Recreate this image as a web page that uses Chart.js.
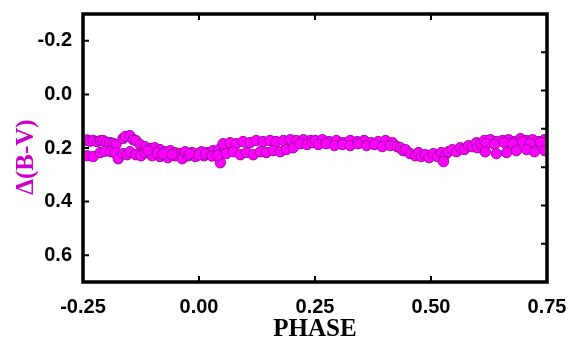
<!DOCTYPE html>
<html>
<head>
<meta charset="utf-8">
<script src="https://cdn.jsdelivr.net/npm/chart.js@4.4.1/dist/chart.umd.min.js"></script>
<style>
  html, body { margin: 0; padding: 0; background: #ffffff; }
  #wrap { width: 569px; height: 341px; }
</style>
</head>
<body>
<div id="wrap"><canvas id="lc"></canvas></div>
<script>
// Phase values, grouped by stretch of the curve
const phase = [
  // upper band, left
  -0.248, -0.241, -0.235, -0.228, -0.220, -0.213, -0.207, -0.200, -0.192, -0.185, -0.179,
  -0.164, -0.159, -0.149, -0.142, -0.136, -0.127,
  // lower band, left
  -0.241, -0.228, -0.213, -0.203, -0.190, -0.181, -0.174, -0.164, -0.155, -0.149, -0.136, -0.125,
  // descending branch
  -0.116, -0.105, -0.095, -0.084, -0.073, -0.062, -0.052, -0.041,
  -0.116, -0.101, -0.084, -0.067, -0.052, -0.036,
  -0.110, -0.090, -0.078, -0.058,
  // minimum near phase 0
  -0.030, -0.023, -0.015, -0.008, -0.002, 0.005, 0.011, 0.018, 0.024, 0.030, 0.037, 0.043, 0.050, 0.056,
  0.046, -0.020, 0.000, 0.014, 0.028, 0.040,
  // rising branch, upper and lower rows
  0.052, 0.067, 0.080, 0.095, 0.110, 0.123, 0.138, 0.153, 0.166, 0.182, 0.197, 0.210, 0.225, 0.240,
  0.059, 0.074, 0.089, 0.102, 0.117, 0.132, 0.145, 0.160, 0.175, 0.188, 0.203,
  // maximum plateau
  0.218, 0.233, 0.244,
  0.251, 0.266, 0.281, 0.296, 0.311, 0.326, 0.341, 0.356, 0.371, 0.386, 0.402, 0.417,
  0.257, 0.274, 0.292, 0.309, 0.326, 0.343, 0.361, 0.378, 0.395, 0.412, 0.427,
  // descending to secondary minimum
  0.434, 0.440, 0.445, 0.455, 0.466,
  0.473, 0.479, 0.488, 0.496, 0.505, 0.514, 0.522, 0.531, 0.537, 0.527,
  // rising again
  0.546, 0.555, 0.563, 0.572, 0.581, 0.589, 0.598, 0.600, 0.607,
  // upper band, right
  0.615, 0.628, 0.641, 0.654, 0.667, 0.680, 0.693, 0.706, 0.719, 0.732, 0.745, 0.751,
  0.619, 0.637, 0.658, 0.676, 0.697, 0.714, 0.736,
  // sparse lower row, right
  0.617, 0.641, 0.663, 0.684, 0.706, 0.723, 0.745
];

const deltaBV = [
  0.172, 0.170, 0.175, 0.172, 0.176, 0.173, 0.172, 0.178, 0.180, 0.183, 0.187,
  0.165, 0.157, 0.154, 0.169, 0.172, 0.187,
  0.229, 0.232, 0.217, 0.212, 0.214, 0.218, 0.240, 0.221, 0.225, 0.214, 0.225, 0.229,
  0.195, 0.202, 0.199, 0.206, 0.214, 0.210, 0.217, 0.221,
  0.217, 0.229, 0.232, 0.236, 0.229, 0.240,
  0.210, 0.218, 0.222, 0.225,
  0.214, 0.229, 0.217, 0.232, 0.221, 0.214, 0.229, 0.217, 0.225, 0.210, 0.221, 0.206, 0.217, 0.202,
  0.255, 0.222, 0.226, 0.222, 0.230, 0.228,
  0.184, 0.180, 0.184, 0.176, 0.180, 0.172, 0.176, 0.172, 0.176, 0.172, 0.169, 0.172, 0.169, 0.172,
  0.221, 0.214, 0.225, 0.217, 0.225, 0.214, 0.217, 0.210, 0.214, 0.206, 0.199,
  0.184, 0.187, 0.180,
  0.172, 0.169, 0.176, 0.172, 0.180, 0.172, 0.176, 0.172, 0.180, 0.176, 0.172, 0.180,
  0.187, 0.184, 0.191, 0.187, 0.191, 0.184, 0.191, 0.187, 0.195, 0.191, 0.195,
  0.199, 0.210, 0.206, 0.221, 0.229,
  0.217, 0.232, 0.225, 0.236, 0.221, 0.232, 0.217, 0.225, 0.214, 0.251,
  0.206, 0.214, 0.199, 0.206, 0.191, 0.195, 0.180, 0.199, 0.184,
  0.172, 0.169, 0.176, 0.172, 0.169, 0.176, 0.165, 0.172, 0.169, 0.176, 0.169, 0.172,
  0.184, 0.187, 0.180, 0.184, 0.176, 0.184, 0.180,
  0.214, 0.221, 0.217, 0.210, 0.206, 0.214, 0.210
];

// Tick labels
const xTicks = [-0.25, 0.00, 0.25, 0.50, 0.75];
const yTicks = [-0.2, 0.0, 0.2, 0.4, 0.6];
const rightTicks = [1, 2, 3, 4, 5, 6];

const points = phase.map((p, i) => ({ x: p, y: deltaBV[i] }));

// Frame plugin: thick box, inward ticks on all sides, rotated y title
const framePlugin = {
  id: 'frame',
  afterDatasetsDraw(chart) {
    const ctx = chart.ctx;
    const a = chart.chartArea;
    const xs = chart.scales.x, ys = chart.scales.y, rs = chart.scales.y2;
    ctx.save();
    ctx.strokeStyle = '#000';
    ctx.lineWidth = 2;
    const len = 6;
    ctx.beginPath();
    xTicks.forEach(v => {
      const px = xs.getPixelForValue(v);
      ctx.moveTo(px, a.bottom); ctx.lineTo(px, a.bottom - len);
      ctx.moveTo(px, a.top); ctx.lineTo(px, a.top + len);
    });
    yTicks.forEach(v => {
      const py = ys.getPixelForValue(v);
      ctx.moveTo(a.left, py); ctx.lineTo(a.left + len, py);
    });
    rightTicks.forEach(v => {
      const py = rs.getPixelForValue(v);
      ctx.moveTo(a.right, py); ctx.lineTo(a.right - len, py);
    });
    ctx.stroke();
    ctx.lineWidth = 3.5;
    ctx.strokeRect(a.left, a.top, a.right - a.left, a.bottom - a.top);

    // y axis title
    ctx.translate(27, 157);
    ctx.rotate(-Math.PI / 2);
    ctx.fillStyle = '#cc00cc';
    ctx.font = 'bold 25px "Liberation Serif"';
    ctx.textAlign = 'center';
    ctx.textBaseline = 'middle';
    ctx.fillText('\u0394(B-V)', 0, 0);
    ctx.restore();
  }
};

new Chart(document.getElementById('lc'), {
  type: 'scatter',
  data: {
    datasets: [{
      label: 'dBV',
      data: points,
      backgroundColor: '#ff00ff',
      borderColor: '#9a0aa0',
      borderWidth: 1,
      pointRadius: 5.2,
      pointHoverRadius: 5.2
    }]
  },
  options: {
    responsive: true,
    maintainAspectRatio: false,
    animation: false,
    layout: { padding: { top: 14, right: 22, left: 0, bottom: 0 } },
    plugins: {
      legend: { display: false },
      tooltip: { enabled: false }
    },
    scales: {
      x: {
        type: 'linear',
        min: -0.25,
        max: 0.75,
        afterBuildTicks: s => { s.ticks = xTicks.map(v => ({ value: v })); },
        afterFit: s => { s.height = 59; s.paddingLeft = 0; s.paddingRight = 0; },
        grid: { display: false, drawTicks: false },
        border: { display: false },
        ticks: {
          padding: 13,
          color: '#000',
          font: { family: '"Liberation Sans", Arial', weight: 'bold', size: 20 },
          callback: v => v.toFixed(2),
          maxRotation: 0
        },
        title: {
          display: true,
          text: 'PHASE',
          color: '#000',
          padding: { top: 0, bottom: -4 },
          font: { family: '"Liberation Serif", "Times New Roman"', weight: 'bold', size: 25 }
        }
      },
      y: {
        type: 'linear',
        reverse: true,
        min: -0.3,
        max: 0.7,
        afterBuildTicks: s => { s.ticks = yTicks.map(v => ({ value: v })); },
        afterFit: s => { s.width = 83; s.paddingTop = 0; s.paddingBottom = 0; },
        grid: { display: false, drawTicks: false },
        border: { display: false },
        ticks: {
          padding: 11,
          color: '#000',
          font: { family: '"Liberation Sans", Arial', weight: 'bold', size: 20 },
          callback: v => v.toFixed(1)
        }
      },
      y2: {
        type: 'linear',
        position: 'right',
        min: 0,
        max: 7,
        afterFit: s => { s.width = 0; s.paddingTop = 0; s.paddingBottom = 0; },
        grid: { display: false, drawTicks: false },
        border: { display: false },
        ticks: { display: false }
      }
    }
  },
  plugins: [framePlugin]
});
</script>
</body>
</html>
